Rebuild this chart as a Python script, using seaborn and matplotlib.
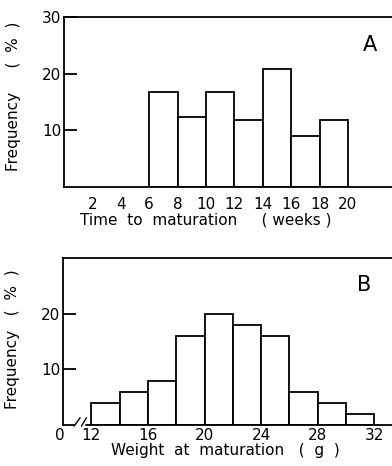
#!/usr/bin/env python3
"""
plot.py
Frequency histograms of time and weight at maturation (panels A and B).
"""
import numpy as np
import pandas as pd
import matplotlib
matplotlib.use("Agg")
import matplotlib.pyplot as plt
import matplotlib.transforms as mtransforms
import seaborn as sns

# panel A: time to maturation (weeks)
week_edges = [6, 8, 10, 12, 14, 16, 18, 20]
week_freq = [16.8, 12.4, 16.8, 11.8, 20.8, 9.0, 11.8]
week_ticks = [2, 4, 6, 8, 10, 12, 14, 16, 18, 20]

# panel B: weight at maturation (g)
weight_edges = [12, 14, 16, 18, 20, 22, 24, 26, 28, 30, 32]
weight_freq = [4, 6, 8, 16, 20, 18, 16, 6, 4, 2]
weight_ticks = [12, 16, 20, 24, 28, 32]

sns.set_theme(style="ticks")
plt.rcParams["font.family"] = ["DejaVu Sans"]
plt.rcParams["text.color"] = "black"
plt.rcParams["xtick.color"] = "black"
plt.rcParams["ytick.color"] = "black"
plt.rcParams["axes.labelcolor"] = "black"

LW = 1.3
FS = 11
fig = plt.figure(figsize=(3.92, 4.66), dpi=100)
ax_a = fig.add_axes([0.163, 0.599, 0.837, 0.364])
ax_b = fig.add_axes([0.161, 0.088, 0.839, 0.358])


def draw_hist(ax, edges, freq):
    e = np.asarray(edges, dtype=float)
    df = pd.DataFrame({"mid": (e[:-1] + e[1:]) / 2, "freq": freq})
    sns.histplot(data=df, x="mid", weights="freq", bins=list(edges), ax=ax,
                 stat="count", color="white", edgecolor="black",
                 linewidth=LW, alpha=1)
    ax.set_ylabel("")
    ax.set_xlabel("")
    for side in ["left", "top", "bottom"]:
        ax.spines[side].set_linewidth(LW)
        ax.spines[side].set_color("black")
    ax.spines["right"].set_visible(False)
    ax.tick_params(axis="y", direction="in", length=9, width=LW, pad=2,
                   labelsize=FS)


# ---- panel A
draw_hist(ax_a, week_edges, week_freq)
ax_a.set_xlim(0, 23.1)
ax_a.set_ylim(0, 30)
ax_a.set_yticks([10, 20, 30])
ax_a.set_xticks(week_ticks)
ax_a.tick_params(axis="x", length=0, pad=7, labelsize=FS)
ax_a.set_xlabel("Time  to  maturation     ( weeks )", fontsize=FS)
ax_a.xaxis.set_label_coords(0.433, -0.15)
ax_a.set_ylabel("Frequency     (  %  )", fontsize=FS)
ax_a.yaxis.set_label_coords(-0.13, 0.535)
ax_a.text(0.933, 0.835, "A", transform=ax_a.transAxes, fontsize=15,
          ha="center", va="center")

# ---- panel B (broken x axis between 0 and 12)
draw_hist(ax_b, weight_edges, weight_freq)
ax_b.set_xlim(10, 33.25)
ax_b.set_ylim(0, 30)
ax_b.set_yticks([10, 20])
ax_b.set_xticks([10] + weight_ticks)
ax_b.set_xticklabels(["0"] + [str(t) for t in weight_ticks])
ax_b.tick_params(axis="x", length=0, pad=2, labelsize=FS)
shift = mtransforms.ScaledTranslation(-3 / 100, 0, fig.dpi_scale_trans)
zero_lab = ax_b.get_xticklabels()[0]
zero_lab.set_transform(zero_lab.get_transform() + shift)
ax_b.spines["bottom"].set_visible(False)
ax_b.plot([10, 10.8], [0, 0], color="black", lw=LW, clip_on=False)
ax_b.plot([11.6, 33.25], [0, 0], color="black", lw=LW, clip_on=False)
for x0, x1 in [(10.78, 11.2), (11.3, 11.65)]:
    ax_b.plot([x0, x1], [-0.2, 1.3], color="black", lw=1.0, clip_on=False)
ax_b.set_xlabel("Weight  at  maturation   (  g  )", fontsize=FS)
ax_b.xaxis.set_label_coords(0.492, -0.105)
ax_b.set_ylabel("Frequency   (  %  )", fontsize=FS)
ax_b.yaxis.set_label_coords(-0.13, 0.515)
ax_b.text(0.915, 0.838, "B", transform=ax_b.transAxes, fontsize=15,
          ha="center", va="center")

fig.savefig("out.png", dpi=100)
plt.close(fig)
